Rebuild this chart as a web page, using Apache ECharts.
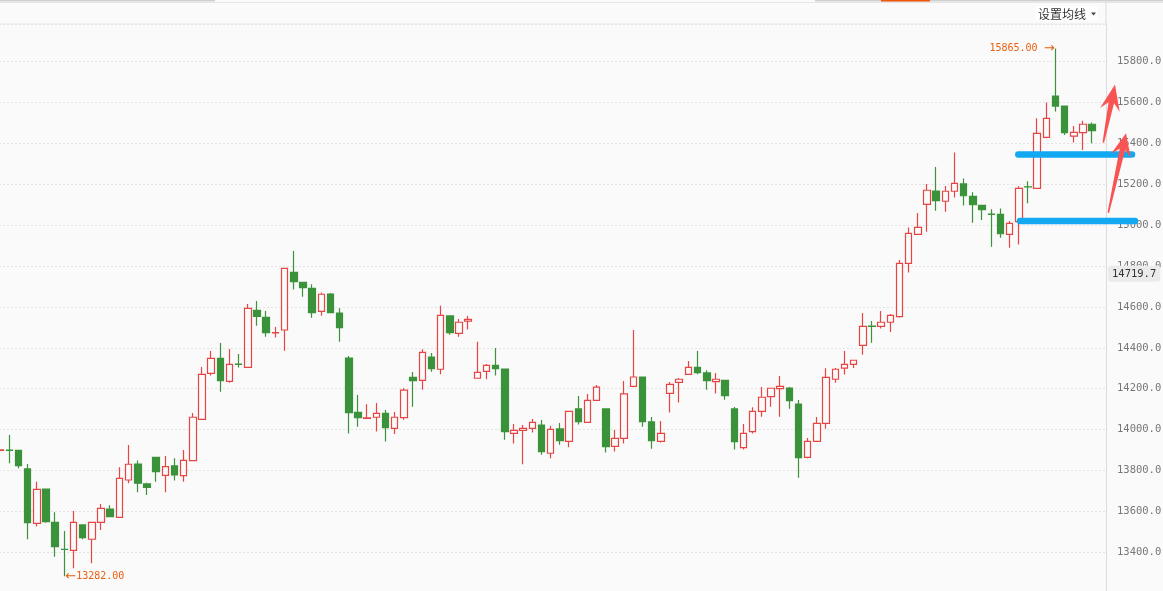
<!DOCTYPE html>
<html>
<head>
<meta charset="utf-8">
<title>K线</title>
<script src="https://cdn.jsdelivr.net/npm/echarts@6.0.0/dist/echarts.min.js"></script>
<style>
    html, body { margin: 0; padding: 0; background: #fafafa; }
    #chart { width: 1163px; height: 591px; }
</style>
</head>
<body>
<div id="chart"></div>
<script>
// daily bars (open / close / low / high)
var opens = [
    13898, 13899, 13898, 13807, 13541, 13709, 13546, 13414, 13409, 13533,
    13463, 13546, 13611, 13570, 13753, 13831, 13734, 13864, 13776, 13822,
    13774, 13848, 14050, 14275, 14348, 14236, 14320, 14304, 14583, 14549,
    14473, 14487, 14769, 14720, 14691, 14578, 14663, 14570, 14350, 14084,
    14055, 14060, 14079, 14006, 14058, 14255, 14241, 14355, 14295, 14556,
    14471, 14530, 14251, 14285, 14314, 14296, 13981, 13996, 14006, 14022,
    13884, 14003, 13942, 14101, 14035, 14143, 14101, 13918, 13957, 14211,
    14257, 14037, 13942, 14177, 14231, 14270, 14304, 14277, 14234, 14241,
    14101, 13911, 13990, 14089, 14161, 14200, 14203, 14125, 13864, 13942,
    14030, 14246, 14300, 14319, 14412, 14506, 14505, 14525, 14552, 14813,
    14955, 15102, 15167, 15117, 15166, 15202, 15141, 15097, 15054, 15053,
    14955, 15017, 15188, 15180, 15430, 15632, 15583, 15436, 15453, 15494
];
var closes = [
    13900, 13898, 13823, 13544, 13707, 13549, 13427, 13413, 13546, 13471,
    13546, 13614, 13574, 13761, 13830, 13737, 13717, 13794, 13818, 13778,
    13849, 14060, 14270, 14348, 14239, 14319, 14319, 14593, 14554, 14474,
    14474, 14789, 14724, 14694, 14572, 14662, 14572, 14499, 14083, 14058,
    14057, 14079, 14009, 14060, 14193, 14239, 14378, 14298, 14559, 14474,
    14525, 14539, 14280, 14314, 14298, 13990, 13996, 14006, 14035, 13892,
    14001, 13946, 14089, 14039, 14143, 14207, 13916, 13957, 14174, 14257,
    14039, 13946, 13981, 14221, 14246, 14304, 14278, 14239, 14246, 14166,
    13941, 13981, 14089, 14158, 14202, 14211, 14141, 13862, 13942, 14030,
    14255, 14295, 14319, 14339, 14505, 14505, 14525, 14559, 14813, 14960,
    14989, 15171, 15120, 15166, 15205, 15144, 15100, 15076, 15053, 14958,
    15009, 15180, 15187, 15449, 15523, 15583, 15453, 15454, 15494, 15463
];
var lows = [
    13895, 13835, 13810, 13463, 13525, 13544, 13378, 13282, 13321, 13463,
    13345, 13508, 13574, 13570, 13737, 13693, 13680, 13745, 13693, 13750,
    13745, 13845, 14047, 14264, 14185, 14229, 14303, 14304, 14508, 14454,
    14450, 14386, 14685, 14650, 14547, 14557, 14572, 14430, 13981, 14014,
    14055, 13990, 13941, 13978, 14048, 14112, 14195, 14283, 14270, 14464,
    14454, 14490, 14251, 14246, 14264, 13950, 13931, 13830, 13985, 13877,
    13859, 13926, 13913, 14024, 14035, 14143, 13887, 13892, 13931, 14207,
    14014, 13906, 13936, 14083, 14132, 14270, 14270, 14195, 14176, 14146,
    13902, 13902, 13980, 14063, 14112, 14063, 14102, 13764, 13859, 13942,
    14004, 14229, 14269, 14301, 14366, 14425, 14494, 14477, 14548, 14768,
    14955, 14968, 15071, 15066, 15136, 15096, 15012, 15025, 14895, 14939,
    14890, 14905, 15107, 15180, 15425, 15556, 15441, 15404, 15368, 15401
];
var highs = [
    13905, 13973, 13900, 13831, 13745, 13709, 13595, 13504, 13601, 13533,
    13546, 13636, 13629, 13815, 13924, 13848, 13740, 13864, 13871, 13859,
    13900, 14081, 14306, 14384, 14424, 14394, 14370, 14614, 14629, 14580,
    14502, 14789, 14874, 14720, 14711, 14671, 14668, 14593, 14360, 14169,
    14124, 14130, 14096, 14086, 14202, 14282, 14393, 14375, 14606, 14556,
    14541, 14556, 14430, 14321, 14399, 14296, 14027, 14022, 14052, 14047,
    14017, 14032, 14089, 14164, 14174, 14218, 14101, 13998, 14238, 14487,
    14257, 14061, 14042, 14233, 14252, 14335, 14384, 14290, 14277, 14241,
    14110, 14027, 14109, 14208, 14202, 14262, 14208, 14145, 13959, 14061,
    14300, 14301, 14384, 14339, 14570, 14531, 14580, 14565, 14830, 14989,
    15060, 15202, 15285, 15192, 15356, 15229, 15161, 15097, 15078, 15082,
    15020, 15190, 15215, 15523, 15600, 15865, 15583, 15485, 15511, 15503
];
// one empty slot is left after the last bar
var categories = [];
for (var i = 0; i <= opens.length; i++) {
    categories.push(String(i + 1));
}
var yMin = 13200;
var yMax = 15984.5;
var yStep = 200;
// the crosshair price box on the right axis
var crossValue = 14762;
var crossText = '14719.7';
// hand drawn support levels
var levels = [15346, 15021];

var RED = '#e84444';
var GREEN = '#3a923a';
var ORANGE = '#e8600f';
var MONO = 'DejaVu Sans Mono';

var candles = [];
for (var k = 0; k < opens.length; k++) {
    candles.push([opens[k], closes[k], lows[k], highs[k]]);
}
candles.push('-');

var hi = Math.max.apply(null, highs);
var lo = Math.min.apply(null, lows);
var hiIdx = highs.indexOf(hi);
var loIdx = lows.indexOf(lo);

var chart = echarts.init(document.getElementById('chart'));

var option = {
    backgroundColor: '#fafafa',
    animation: false,
    grid: {
        left: -4.5,
        right: 57,
        top: 24,
        bottom: -2,
        containLabel: false,
        outerBoundsMode: 'none'
    },
    xAxis: {
        type: 'category',
        data: categories,
        boundaryGap: true,
        axisLine: { show: false },
        axisTick: { show: false },
        axisLabel: { show: false },
        splitLine: { show: false }
    },
    yAxis: {
        type: 'value',
        position: 'right',
        scale: true,
        min: yMin,
        max: yMax,
        interval: yStep,
        axisLine: { show: true, lineStyle: { color: '#dcdcdc', width: 1 } },
        axisTick: { show: false },
        axisLabel: {
            color: '#777',
            fontFamily: MONO,
            fontSize: 10.5,
            margin: 11,
            showMinLabel: false,
            showMaxLabel: false,
            formatter: function (v) {
                return v.toFixed(1);
            }
        },
        splitLine: {
            show: true,
            lineStyle: { color: '#cdcdcd', type: [1, 3], width: 1 }
        }
    },
    series: [{
        type: 'candlestick',
        data: candles,
        barWidth: 7,
        itemStyle: {
            color: '#fafafa',
            color0: GREEN,
            borderColor: RED,
            borderColor0: GREEN,
            borderWidth: 1.2
        },
        markPoint: {
            symbol: 'circle',
            symbolSize: 0,
            silent: true,
            label: {
                show: true,
                color: ORANGE,
                fontFamily: MONO,
                fontSize: 10,
                distance: 1,
                rich: {
                    arr: { fontFamily: 'DejaVu Sans', fontSize: 13, color: ORANGE }
                }
            },
            data: [
                {
                    coord: [hiIdx, hi],
                    label: { position: 'left', formatter: hi.toFixed(2) + ' {arr|\u2192}' }
                },
                {
                    coord: [loIdx, lo],
                    label: { position: 'right', formatter: '{arr|\u2190}' + lo.toFixed(2) }
                }
            ]
        },
        markLine: {
            silent: true,
            symbol: ['none', 'none'],
            lineStyle: { color: 'rgba(0,0,0,0)', width: 0 },
            label: {
                show: true,
                position: 'end',
                distance: 2,
                formatter: crossText,
                color: '#333',
                fontFamily: MONO,
                fontSize: 10.5,
                backgroundColor: '#ebebeb',
                padding: [3, 4, 2, 4],
                borderRadius: 3
            },
            data: [{ yAxis: crossValue }]
        }
    }]
};

chart.setOption(option);

// builds a tapering arrow polygon from tail to tip
function arrowShape(tail, tip, headLen, headHalf, neckHalf, tailHalf) {
    var dx = tip[0] - tail[0];
    var dy = tip[1] - tail[1];
    var len = Math.sqrt(dx * dx + dy * dy);
    var ux = dx / len, uy = dy / len;
    var nx = -uy, ny = ux;
    function p(a, b) {
        return [tail[0] + ux * a + nx * b, tail[1] + uy * a + ny * b];
    }
    var neck = len - headLen * 0.72;
    var back = len - headLen;
    return [p(0, -tailHalf), p(neck, -neckHalf), p(back, -headHalf), p(len, 0),
        p(back, headHalf), p(neck, neckHalf), p(0, tailHalf)];
}

function drawOverlay() {
    var band = chart.convertToPixel({ xAxisIndex: 0 }, 1) - chart.convertToPixel({ xAxisIndex: 0 }, 0);
    var axisX = chart.convertToPixel({ xAxisIndex: 0 }, categories.length - 1) + band / 2;
    var startX = chart.convertToPixel({ xAxisIndex: 0 }, opens.length - 9);
    var yOf = function (v) {
        return chart.convertToPixel({ yAxisIndex: 0 }, v);
    };
    var g = [];

    // top tab strip and header
    g.push({ type: 'rect', shape: { x: 0, y: 0, width: 215, height: 1.5 }, style: { fill: '#cfcfcf' } });
    g.push({ type: 'rect', shape: { x: 815, y: 0, width: 348, height: 1.5 }, style: { fill: '#cfcfcf' } });
    g.push({ type: 'rect', shape: { x: 881, y: 0, width: 49, height: 1.5 }, style: { fill: '#f0560a' } });
    g.push({ type: 'rect', shape: { x: 0, y: 2, width: 1163, height: 1 }, style: { fill: '#e6e6e6' } });
    g.push({ type: 'rect', shape: { x: 0, y: 23.5, width: axisX, height: 1 }, style: { fill: '#e9e9e9' } });
    g.push({ type: 'rect', shape: { x: axisX - 0.5, y: 0, width: 1, height: 24 }, style: { fill: '#dcdcdc' } });
    g.push({ type: 'rect', shape: { x: 1036, y: 6.5, width: 62, height: 14 }, style: { fill: '#ffffff' } });
    g.push({
        type: 'text', x: 1038, y: 14,
        style: { text: '设置均线', fill: '#333', font: '12px "Noto Sans CJK SC"', textVerticalAlign: 'middle' }
    });
    g.push({
        type: 'polygon', shape: { points: [[1091, 12.5], [1096, 12.5], [1093.5, 15.5]] },
        style: { fill: '#444' }
    });

    // blue support lines
    var ends = [[startX - 0.5, axisX + 26], [startX + 1.2, axisX + 29]];
    levels.forEach(function (lv, n) {
        var y = yOf(lv);
        g.push({
            type: 'line', z: 50,
            shape: { x1: ends[n][0], y1: y, x2: ends[n][1], y2: y },
            style: { stroke: '#12a9f2', lineWidth: 6.5, lineCap: 'round' }
        });
    });

    // red arrows
    var arrows = [
        { tail: [axisX - 2.7, yOf(15404)], tip: [axisX + 9, yOf(15689)], head: 26 },
        { tail: [axisX + 2.3, yOf(15061)], tip: [axisX + 20, yOf(15450)], head: 23 }
    ];
    arrows.forEach(function (a) {
        g.push({
            type: 'polygon', z: 51,
            shape: { points: arrowShape(a.tail, a.tip, a.head, 10, 2.8, 0.8) },
            style: { fill: '#f95454' }
        });
    });

    chart.setOption({ graphic: g });
}

drawOverlay();
</script>
</body>
</html>
